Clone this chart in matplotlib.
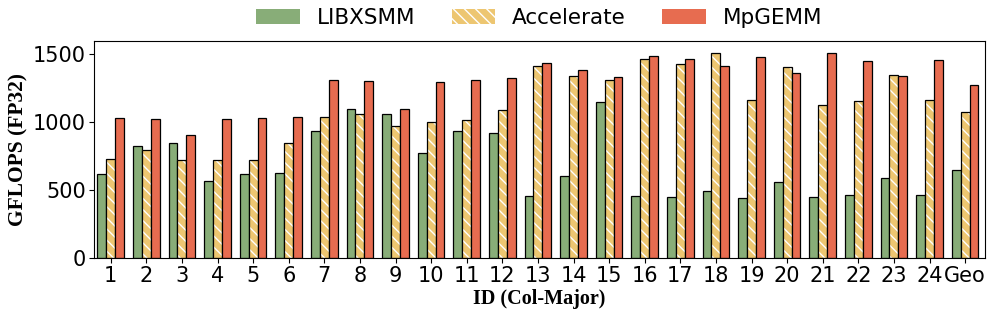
import numpy as np
import matplotlib
matplotlib.use("Agg")
import matplotlib.pyplot as plt
from matplotlib.patches import Patch

# data
ids = [str(i) for i in range(1, 25)] + ["Geo"]
libxsmm = [623, 828, 845, 572, 623, 629, 938, 1096, 1064, 775, 940, 921,
           460, 604, 1148, 460, 455, 497, 446, 565, 450, 465, 592, 463, 651]
accelerate = [731, 794, 726, 721, 724, 845, 1042, 1060, 972, 1001, 1016, 1089,
              1418, 1345, 1313, 1466, 1433, 1510, 1162, 1408, 1126, 1159, 1347, 1162, 1077]
mpgemm = [1033, 1028, 911, 1023, 1035, 1042, 1311, 1301, 1101, 1294, 1311, 1323,
          1435, 1384, 1335, 1491, 1469, 1413, 1479, 1360, 1513, 1450, 1340, 1457, 1272]

c_green = "#88ad78"
c_yellow = "#edc671"
c_red = "#e76c50"

x = np.arange(len(ids))
w = 0.25

fig, ax = plt.subplots(figsize=(9.96, 3.19), dpi=100)
fig.subplots_adjust(left=0.094, right=0.989, top=0.872, bottom=0.19)

ax.bar(x - w, libxsmm, w, color=c_green, edgecolor="black", linewidth=0.9)
# hatch in white, then black outline on top
ax.bar(x, accelerate, w, color=c_yellow, edgecolor="white", hatch="\\\\\\", linewidth=0)
ax.bar(x, accelerate, w, fill=False, edgecolor="black", linewidth=0.9)
ax.bar(x + w, mpgemm, w, color=c_red, edgecolor="black", linewidth=0.9)

ax.set_xlim(-0.48, 24.56)
ax.set_ylim(0, 1600)
ax.set_yticks([0, 500, 1000, 1500])
ax.set_xticks(x)
ax.set_xticklabels(ids)
ax.tick_params(axis="both", labelsize=15, pad=2)

ax.set_ylabel("GFLOPS (FP32)", fontsize=15.5, fontweight="bold",
              family="Liberation Serif", labelpad=3)
ax.set_xlabel("ID (Col-Major)", fontsize=14.5, fontweight="bold",
              family="Liberation Serif", labelpad=2)

handles = [
    Patch(facecolor=c_green, edgecolor="none"),
    Patch(facecolor=c_yellow, edgecolor="white", hatch="\\\\\\", linewidth=0),
    Patch(facecolor=c_red, edgecolor="none"),
]
ax.legend(handles, ["LIBXSMM", "Accelerate", "MpGEMM"], ncol=3, frameon=False,
          fontsize=15.5, loc="lower center", bbox_to_anchor=(0.5, 1.0),
          columnspacing=1.7, handlelength=2.0, borderpad=0.1)

fig.savefig("out.png", dpi=100)
